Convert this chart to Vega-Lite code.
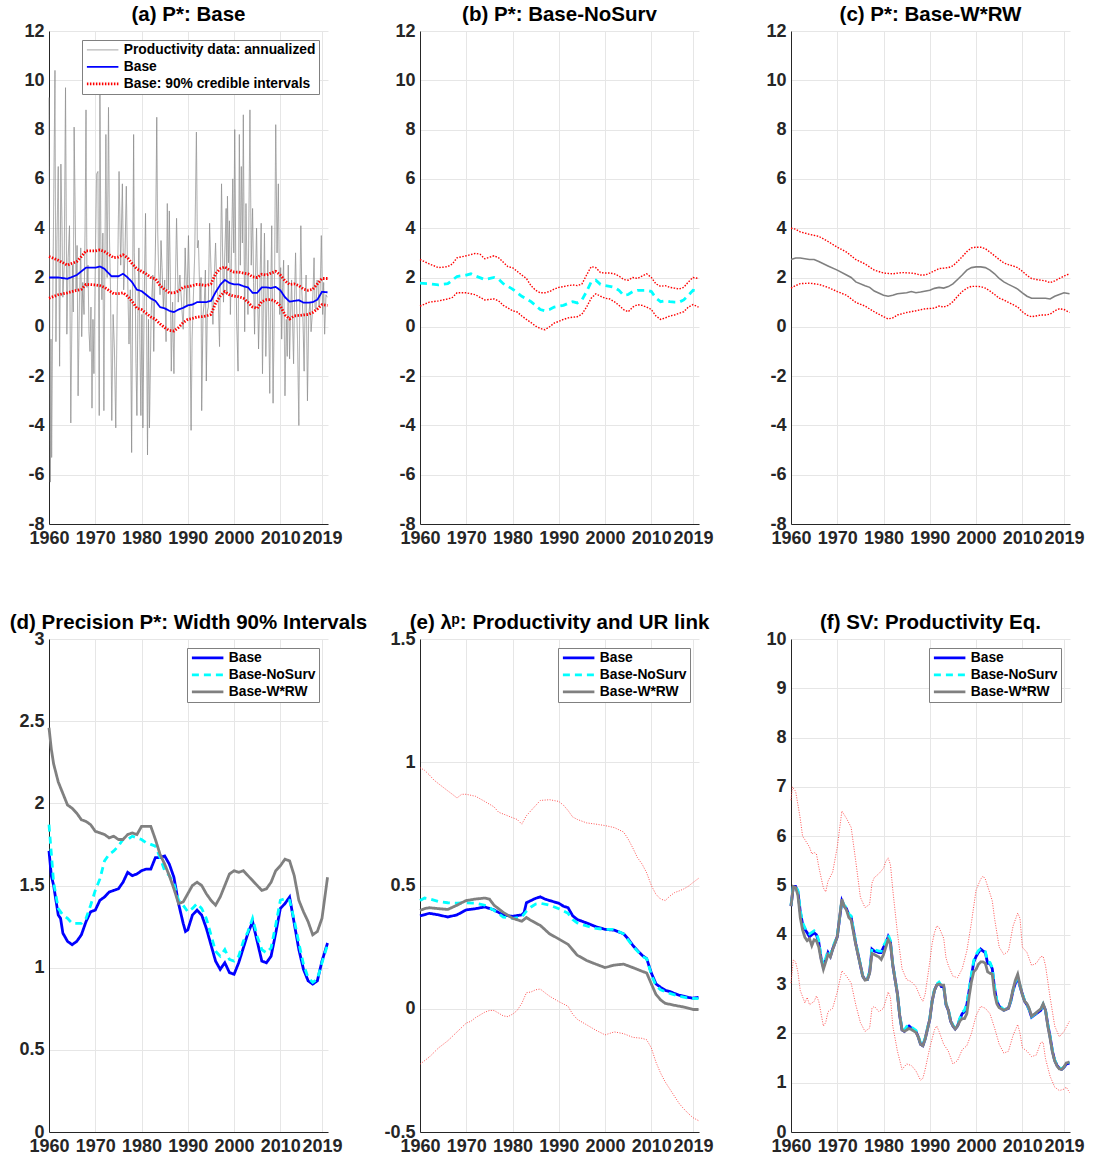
{
"$schema": "https://vega.github.io/schema/vega-lite/v6.json",
"padding": {"left": 9, "top": 4, "right": 5, "bottom": 5},
"background": "white",
"config": {
  "view": {"stroke": null},
  "font": "Liberation Sans",
  "axis": {"labelFont": "Liberation Sans", "labelFontSize": 18, "labelFontWeight": "bold", "labelColor": "#262626", "domainColor": "#262626", "domainWidth": 1, "gridColor": "#e6e6e6", "grid": true, "ticks": false, "labelPadding": 5},
  "title": {"font": "Liberation Sans", "fontSize": 20.5, "fontWeight": "bold", "color": "#000000", "offset": -3, "anchor": "middle"},
  "legend": {"orient": "top-right", "offset": 9, "fillColor": "white", "strokeColor": "#808080", "padding": 3, "labelFont": "Liberation Sans", "labelFontSize": 13.8, "labelFontWeight": "bold", "labelColor": "#000000", "labelLimit": 0, "symbolType": "M-1,0H5.3", "symbolSize": 100, "rowPadding": 2, "labelOffset": 25}
},
"datasets": {
"aB": [{"t":1960,"v":2.0},{"t":1962,"v":2.0},{"t":1964,"v":1.95},{"t":1966,"v":2.1},{"t":1967,"v":2.25},{"t":1968,"v":2.4},{"t":1970,"v":2.4},{"t":1971,"v":2.45},{"t":1972,"v":2.35},{"t":1973.5,"v":2.05},{"t":1975,"v":2.05},{"t":1976,"v":2.15},{"t":1977,"v":2.0},{"t":1978,"v":1.8},{"t":1979,"v":1.5},{"t":1980,"v":1.45},{"t":1981,"v":1.3},{"t":1982,"v":1.15},{"t":1983,"v":1.05},{"t":1984,"v":0.8},{"t":1985,"v":0.75},{"t":1986,"v":0.65},{"t":1987,"v":0.6},{"t":1988,"v":0.7},{"t":1989,"v":0.77},{"t":1990,"v":0.87},{"t":1991,"v":0.9},{"t":1992,"v":1.0},{"t":1993,"v":1.0},{"t":1994,"v":1.0},{"t":1995,"v":1.05},{"t":1996,"v":1.4},{"t":1997,"v":1.7},{"t":1998,"v":1.9},{"t":1999,"v":1.78},{"t":2000,"v":1.72},{"t":2001,"v":1.72},{"t":2002,"v":1.65},{"t":2003,"v":1.6},{"t":2004,"v":1.38},{"t":2005,"v":1.38},{"t":2006,"v":1.6},{"t":2007,"v":1.6},{"t":2008,"v":1.57},{"t":2009,"v":1.62},{"t":2010,"v":1.48},{"t":2011,"v":1.2},{"t":2012,"v":1.02},{"t":2013,"v":1.05},{"t":2014,"v":1.08},{"t":2015,"v":0.98},{"t":2016,"v":0.98},{"t":2017,"v":1.0},{"t":2018,"v":1.1},{"t":2019,"v":1.42},{"t":2020.2,"v":1.4}],
"aU": [{"t":1960,"v":2.85},{"t":1962,"v":2.7},{"t":1964,"v":2.5},{"t":1966,"v":2.65},{"t":1967,"v":2.85},{"t":1968,"v":3.08},{"t":1970,"v":3.08},{"t":1971,"v":3.12},{"t":1972,"v":3.05},{"t":1974,"v":2.8},{"t":1975,"v":2.83},{"t":1976,"v":2.92},{"t":1977,"v":2.8},{"t":1978,"v":2.55},{"t":1979,"v":2.35},{"t":1980,"v":2.25},{"t":1981,"v":2.15},{"t":1982,"v":2.0},{"t":1983,"v":1.95},{"t":1984,"v":1.67},{"t":1985,"v":1.52},{"t":1986,"v":1.38},{"t":1987,"v":1.38},{"t":1988,"v":1.45},{"t":1989,"v":1.6},{"t":1990,"v":1.63},{"t":1991,"v":1.67},{"t":1992,"v":1.72},{"t":1993,"v":1.7},{"t":1994,"v":1.67},{"t":1995,"v":1.74},{"t":1996,"v":2.15},{"t":1997,"v":2.36},{"t":1998,"v":2.43},{"t":1999,"v":2.3},{"t":2000,"v":2.22},{"t":2001,"v":2.22},{"t":2002,"v":2.18},{"t":2003,"v":2.15},{"t":2004,"v":2.03},{"t":2005,"v":2.0},{"t":2006,"v":2.13},{"t":2007,"v":2.1},{"t":2008,"v":2.18},{"t":2009,"v":2.25},{"t":2010,"v":2.1},{"t":2011,"v":1.86},{"t":2012,"v":1.72},{"t":2013,"v":1.74},{"t":2014,"v":1.67},{"t":2015,"v":1.53},{"t":2016,"v":1.48},{"t":2017,"v":1.52},{"t":2018,"v":1.74},{"t":2019,"v":1.96},{"t":2020.2,"v":1.96}],
"aL": [{"t":1960,"v":1.16},{"t":1962,"v":1.3},{"t":1964,"v":1.38},{"t":1966,"v":1.48},{"t":1967,"v":1.52},{"t":1968,"v":1.72},{"t":1970,"v":1.7},{"t":1971,"v":1.67},{"t":1972,"v":1.6},{"t":1974,"v":1.34},{"t":1975,"v":1.35},{"t":1976,"v":1.38},{"t":1977,"v":1.24},{"t":1978,"v":1.02},{"t":1979,"v":0.75},{"t":1980,"v":0.7},{"t":1981,"v":0.55},{"t":1982,"v":0.4},{"t":1983,"v":0.3},{"t":1984,"v":0.12},{"t":1985,"v":-0.03},{"t":1986,"v":-0.15},{"t":1987,"v":-0.17},{"t":1988,"v":-0.03},{"t":1989,"v":0.17},{"t":1990,"v":0.3},{"t":1991,"v":0.34},{"t":1992,"v":0.4},{"t":1993,"v":0.41},{"t":1994,"v":0.44},{"t":1995,"v":0.5},{"t":1996,"v":0.95},{"t":1997,"v":1.24},{"t":1998,"v":1.43},{"t":1999,"v":1.3},{"t":2000,"v":1.24},{"t":2001,"v":1.22},{"t":2002,"v":1.16},{"t":2003,"v":1.0},{"t":2004,"v":0.8},{"t":2005,"v":0.75},{"t":2006,"v":1.02},{"t":2007,"v":1.1},{"t":2008,"v":1.1},{"t":2009,"v":1.02},{"t":2010,"v":0.85},{"t":2011,"v":0.48},{"t":2012,"v":0.32},{"t":2013,"v":0.44},{"t":2014,"v":0.46},{"t":2015,"v":0.48},{"t":2016,"v":0.5},{"t":2017,"v":0.58},{"t":2018,"v":0.72},{"t":2019,"v":0.9},{"t":2020.2,"v":0.87}],
"aP": [{"t":1960.0,"v":9.3},{"t":1960.14,"v":2.1},{"t":1960.29,"v":-6.3},{"t":1960.43,"v":-0.5},{"t":1960.57,"v":-5.3},{"t":1960.86,"v":2.0},{"t":1961.29,"v":10.4},{"t":1961.5,"v":-0.6},{"t":1961.71,"v":3.5},{"t":1962.0,"v":6.5},{"t":1962.29,"v":-1.6},{"t":1962.57,"v":6.6},{"t":1962.8,"v":4.2},{"t":1963.0,"v":1.2},{"t":1963.29,"v":2.5},{"t":1963.57,"v":9.7},{"t":1963.86,"v":-0.3},{"t":1964.14,"v":2.8},{"t":1964.43,"v":4.1},{"t":1964.71,"v":-3.9},{"t":1965.07,"v":2.5},{"t":1965.25,"v":0.6},{"t":1965.43,"v":8.1},{"t":1965.86,"v":1.5},{"t":1966.07,"v":3.3},{"t":1966.29,"v":-2.8},{"t":1966.57,"v":1.0},{"t":1966.86,"v":3.2},{"t":1967.07,"v":-0.4},{"t":1967.29,"v":1.8},{"t":1967.57,"v":0.5},{"t":1967.8,"v":4.0},{"t":1968.0,"v":8.8},{"t":1968.21,"v":1.6},{"t":1968.43,"v":2.5},{"t":1968.64,"v":-0.2},{"t":1968.86,"v":-1.0},{"t":1969.07,"v":0.8},{"t":1969.29,"v":-3.3},{"t":1969.5,"v":0.3},{"t":1969.71,"v":-1.9},{"t":1970.0,"v":2.5},{"t":1970.29,"v":6.2},{"t":1970.57,"v":6.3},{"t":1970.86,"v":-3.6},{"t":1971.0,"v":9.8},{"t":1971.21,"v":3.4},{"t":1971.43,"v":1.1},{"t":1971.64,"v":3.8},{"t":1971.86,"v":-3.4},{"t":1972.07,"v":2.4},{"t":1972.29,"v":7.8},{"t":1972.57,"v":2.0},{"t":1972.86,"v":8.9},{"t":1973.07,"v":3.6},{"t":1973.29,"v":1.5},{"t":1973.57,"v":-3.8},{"t":1973.86,"v":0.5},{"t":1974.14,"v":-0.9},{"t":1974.43,"v":-4.1},{"t":1974.79,"v":1.5},{"t":1975.14,"v":6.3},{"t":1975.5,"v":2.5},{"t":1975.86,"v":5.8},{"t":1976.14,"v":1.5},{"t":1976.43,"v":3.0},{"t":1976.71,"v":5.7},{"t":1977.0,"v":2.0},{"t":1977.29,"v":-0.7},{"t":1977.57,"v":1.5},{"t":1977.86,"v":-5.1},{"t":1978.07,"v":1.2},{"t":1978.29,"v":7.8},{"t":1978.43,"v":3.0},{"t":1978.64,"v":1.5},{"t":1978.8,"v":-1.5},{"t":1979.0,"v":-3.6},{"t":1979.21,"v":0.5},{"t":1979.43,"v":3.2},{"t":1979.64,"v":-0.5},{"t":1979.86,"v":-3.6},{"t":1980.07,"v":0.5},{"t":1980.29,"v":-4.1},{"t":1980.57,"v":1.0},{"t":1980.86,"v":4.6},{"t":1981.07,"v":0.8},{"t":1981.29,"v":-5.2},{"t":1981.5,"v":0.3},{"t":1981.71,"v":-4.1},{"t":1982.07,"v":0.5},{"t":1982.43,"v":2.1},{"t":1982.64,"v":-1.0},{"t":1982.86,"v":1.8},{"t":1983.07,"v":4.0},{"t":1983.29,"v":8.5},{"t":1983.5,"v":3.8},{"t":1983.71,"v":2.2},{"t":1984.0,"v":1.3},{"t":1984.21,"v":3.5},{"t":1984.43,"v":2.4},{"t":1984.71,"v":0.8},{"t":1985.0,"v":1.9},{"t":1985.3,"v":-0.6},{"t":1985.57,"v":5.0},{"t":1985.79,"v":1.5},{"t":1986.0,"v":4.7},{"t":1986.21,"v":2.2},{"t":1986.43,"v":-1.8},{"t":1986.71,"v":1.0},{"t":1987.0,"v":-1.9},{"t":1987.29,"v":1.5},{"t":1987.57,"v":4.4},{"t":1987.93,"v":1.0},{"t":1988.29,"v":2.1},{"t":1988.64,"v":1.0},{"t":1989.0,"v":-0.1},{"t":1989.21,"v":1.4},{"t":1989.43,"v":3.2},{"t":1989.79,"v":0.8},{"t":1990.14,"v":3.7},{"t":1990.43,"v":1.0},{"t":1990.71,"v":-4.2},{"t":1990.93,"v":-0.5},{"t":1991.14,"v":0.8},{"t":1991.5,"v":3.0},{"t":1991.86,"v":7.9},{"t":1992.07,"v":3.2},{"t":1992.29,"v":3.5},{"t":1992.64,"v":1.0},{"t":1992.86,"v":2.0},{"t":1993.0,"v":-3.4},{"t":1993.29,"v":0.5},{"t":1993.57,"v":1.0},{"t":1993.8,"v":2.3},{"t":1994.0,"v":-2.2},{"t":1994.21,"v":0.6},{"t":1994.43,"v":0.8},{"t":1994.71,"v":4.2},{"t":1995.14,"v":1.5},{"t":1995.43,"v":0.1},{"t":1995.71,"v":2.0},{"t":1996.0,"v":3.4},{"t":1996.29,"v":1.5},{"t":1996.57,"v":1.2},{"t":1996.86,"v":-0.8},{"t":1997.07,"v":2.6},{"t":1997.29,"v":5.8},{"t":1997.5,"v":3.2},{"t":1997.71,"v":1.0},{"t":1998.0,"v":3.0},{"t":1998.29,"v":4.8},{"t":1998.43,"v":1.3},{"t":1998.57,"v":5.3},{"t":1998.8,"v":2.6},{"t":1999.0,"v":4.3},{"t":1999.2,"v":0.5},{"t":1999.36,"v":2.0},{"t":1999.71,"v":6.0},{"t":1999.93,"v":3.0},{"t":2000.14,"v":8.0},{"t":2000.36,"v":2.8},{"t":2000.57,"v":0.2},{"t":2000.86,"v":-1.8},{"t":2001.14,"v":7.8},{"t":2001.36,"v":2.5},{"t":2001.57,"v":6.5},{"t":2001.8,"v":3.4},{"t":2002.0,"v":8.6},{"t":2002.29,"v":-0.2},{"t":2002.57,"v":5.0},{"t":2002.8,"v":2.2},{"t":2003.0,"v":0.5},{"t":2003.21,"v":4.5},{"t":2003.43,"v":8.8},{"t":2003.71,"v":2.5},{"t":2004.0,"v":4.8},{"t":2004.21,"v":1.8},{"t":2004.43,"v":-0.3},{"t":2004.64,"v":2.2},{"t":2004.86,"v":4.0},{"t":2005.07,"v":1.5},{"t":2005.29,"v":-0.9},{"t":2005.57,"v":1.5},{"t":2005.86,"v":4.2},{"t":2006.14,"v":-1.9},{"t":2006.36,"v":1.2},{"t":2006.57,"v":3.8},{"t":2006.86,"v":-1.2},{"t":2007.07,"v":0.8},{"t":2007.29,"v":2.7},{"t":2007.5,"v":0.2},{"t":2007.71,"v":-2.7},{"t":2007.93,"v":1.5},{"t":2008.14,"v":4.1},{"t":2008.43,"v":-3.1},{"t":2008.71,"v":1.0},{"t":2009.0,"v":8.2},{"t":2009.29,"v":3.0},{"t":2009.57,"v":5.8},{"t":2009.86,"v":0.5},{"t":2010.07,"v":2.4},{"t":2010.29,"v":-0.5},{"t":2010.5,"v":1.6},{"t":2010.71,"v":2.7},{"t":2011.0,"v":-2.8},{"t":2011.29,"v":0.3},{"t":2011.5,"v":-1.2},{"t":2011.71,"v":2.5},{"t":2012.0,"v":-1.3},{"t":2012.21,"v":0.5},{"t":2012.43,"v":1.9},{"t":2012.64,"v":0.2},{"t":2012.86,"v":-1.5},{"t":2013.07,"v":1.2},{"t":2013.29,"v":3.0},{"t":2013.5,"v":1.0},{"t":2013.71,"v":-0.5},{"t":2014.0,"v":-4.0},{"t":2014.21,"v":1.2},{"t":2014.43,"v":4.1},{"t":2014.64,"v":1.5},{"t":2014.86,"v":0.5},{"t":2015.14,"v":-1.8},{"t":2015.36,"v":1.0},{"t":2015.57,"v":2.1},{"t":2015.86,"v":-3.0},{"t":2016.14,"v":0.5},{"t":2016.43,"v":1.0},{"t":2016.64,"v":-0.2},{"t":2016.86,"v":0.4},{"t":2017.07,"v":1.5},{"t":2017.29,"v":2.8},{"t":2017.5,"v":0.8},{"t":2017.71,"v":0.7},{"t":2017.93,"v":1.9},{"t":2018.14,"v":1.8},{"t":2018.36,"v":0.8},{"t":2018.57,"v":1.2},{"t":2018.86,"v":3.7},{"t":2019.14,"v":0.5},{"t":2019.36,"v":1.8},{"t":2019.57,"v":-0.3},{"t":2019.86,"v":1.3},{"t":2020.14,"v":1.2}],
"bN": [{"t":1960,"v":1.77},{"t":1962,"v":1.75},{"t":1964,"v":1.7},{"t":1966,"v":1.75},{"t":1968,"v":2.04},{"t":1970,"v":2.1},{"t":1971,"v":2.15},{"t":1972,"v":2.06},{"t":1974,"v":1.92},{"t":1976,"v":2.0},{"t":1977,"v":1.93},{"t":1978,"v":1.75},{"t":1980,"v":1.53},{"t":1982,"v":1.24},{"t":1984,"v":1.02},{"t":1986,"v":0.7},{"t":1987,"v":0.65},{"t":1988,"v":0.7},{"t":1989,"v":0.8},{"t":1990,"v":0.84},{"t":1991,"v":0.87},{"t":1992,"v":0.95},{"t":1993,"v":1.02},{"t":1994,"v":0.97},{"t":1995,"v":1.09},{"t":1996,"v":1.43},{"t":1997,"v":1.82},{"t":1998,"v":1.89},{"t":1999,"v":1.72},{"t":2000,"v":1.67},{"t":2001,"v":1.64},{"t":2002,"v":1.6},{"t":2003,"v":1.48},{"t":2004,"v":1.28},{"t":2005,"v":1.31},{"t":2006,"v":1.43},{"t":2007,"v":1.48},{"t":2008,"v":1.48},{"t":2009,"v":1.48},{"t":2010,"v":1.43},{"t":2011,"v":1.16},{"t":2012,"v":1.02},{"t":2013,"v":1.05},{"t":2014,"v":1.02},{"t":2015,"v":1.0},{"t":2016,"v":1.0},{"t":2017,"v":1.09},{"t":2018,"v":1.28},{"t":2019,"v":1.48},{"t":2020.2,"v":1.43}],
"bU": [{"t":1960,"v":2.73},{"t":1962,"v":2.55},{"t":1964,"v":2.4},{"t":1966,"v":2.44},{"t":1967,"v":2.55},{"t":1968,"v":2.8},{"t":1970,"v":2.88},{"t":1972,"v":2.98},{"t":1973,"v":2.94},{"t":1974,"v":2.76},{"t":1976,"v":2.88},{"t":1977,"v":2.8},{"t":1978,"v":2.62},{"t":1979,"v":2.44},{"t":1980,"v":2.4},{"t":1981,"v":2.25},{"t":1982,"v":2.1},{"t":1983,"v":1.96},{"t":1984,"v":1.67},{"t":1985,"v":1.48},{"t":1986,"v":1.38},{"t":1987,"v":1.38},{"t":1988,"v":1.43},{"t":1989,"v":1.53},{"t":1990,"v":1.6},{"t":1991,"v":1.63},{"t":1992,"v":1.67},{"t":1993,"v":1.7},{"t":1994,"v":1.67},{"t":1995,"v":1.74},{"t":1996,"v":2.1},{"t":1997,"v":2.44},{"t":1998,"v":2.4},{"t":1999,"v":2.2},{"t":2000,"v":2.18},{"t":2001,"v":2.18},{"t":2002,"v":2.15},{"t":2003,"v":2.06},{"t":2004,"v":1.92},{"t":2005,"v":1.89},{"t":2006,"v":2.0},{"t":2007,"v":1.96},{"t":2008,"v":2.06},{"t":2009,"v":2.15},{"t":2010,"v":2.0},{"t":2011,"v":1.74},{"t":2012,"v":1.64},{"t":2013,"v":1.67},{"t":2014,"v":1.6},{"t":2015,"v":1.57},{"t":2016,"v":1.53},{"t":2017,"v":1.6},{"t":2018,"v":1.82},{"t":2019,"v":2.0},{"t":2020.2,"v":1.96}],
"bL": [{"t":1960,"v":0.84},{"t":1962,"v":1.0},{"t":1964,"v":1.05},{"t":1966,"v":1.13},{"t":1967,"v":1.19},{"t":1968,"v":1.38},{"t":1970,"v":1.38},{"t":1972,"v":1.3},{"t":1973,"v":1.19},{"t":1974,"v":1.09},{"t":1976,"v":1.13},{"t":1977,"v":1.05},{"t":1978,"v":0.87},{"t":1980,"v":0.65},{"t":1981,"v":0.6},{"t":1982,"v":0.44},{"t":1983,"v":0.3},{"t":1984,"v":0.17},{"t":1985,"v":0.03},{"t":1986,"v":-0.07},{"t":1987,"v":-0.12},{"t":1988,"v":0.0},{"t":1989,"v":0.15},{"t":1990,"v":0.22},{"t":1991,"v":0.3},{"t":1992,"v":0.36},{"t":1993,"v":0.39},{"t":1994,"v":0.41},{"t":1995,"v":0.51},{"t":1996,"v":0.8},{"t":1997,"v":1.16},{"t":1998,"v":1.34},{"t":1999,"v":1.24},{"t":2000,"v":1.16},{"t":2001,"v":1.13},{"t":2002,"v":1.02},{"t":2003,"v":0.87},{"t":2004,"v":0.7},{"t":2005,"v":0.61},{"t":2006,"v":0.8},{"t":2007,"v":0.9},{"t":2008,"v":0.87},{"t":2009,"v":0.8},{"t":2010,"v":0.7},{"t":2011,"v":0.44},{"t":2012,"v":0.3},{"t":2013,"v":0.36},{"t":2014,"v":0.44},{"t":2015,"v":0.48},{"t":2016,"v":0.55},{"t":2017,"v":0.61},{"t":2018,"v":0.8},{"t":2019,"v":0.9},{"t":2020.2,"v":0.8}],
"cW": [{"t":1960,"v":2.73},{"t":1961,"v":2.79},{"t":1962,"v":2.79},{"t":1964,"v":2.73},{"t":1965,"v":2.73},{"t":1966,"v":2.65},{"t":1968,"v":2.47},{"t":1970,"v":2.3},{"t":1972,"v":2.1},{"t":1973,"v":2.0},{"t":1974,"v":1.82},{"t":1976,"v":1.67},{"t":1977,"v":1.6},{"t":1978,"v":1.45},{"t":1980,"v":1.28},{"t":1981,"v":1.24},{"t":1982,"v":1.28},{"t":1983,"v":1.34},{"t":1985,"v":1.38},{"t":1986,"v":1.43},{"t":1987,"v":1.38},{"t":1988,"v":1.41},{"t":1990,"v":1.48},{"t":1991,"v":1.56},{"t":1992,"v":1.6},{"t":1993,"v":1.57},{"t":1994,"v":1.63},{"t":1995,"v":1.74},{"t":1996,"v":1.92},{"t":1997,"v":2.1},{"t":1998,"v":2.3},{"t":1999,"v":2.4},{"t":2000,"v":2.43},{"t":2001,"v":2.43},{"t":2002,"v":2.4},{"t":2003,"v":2.3},{"t":2004,"v":2.15},{"t":2005,"v":1.96},{"t":2006,"v":1.82},{"t":2007,"v":1.72},{"t":2008,"v":1.63},{"t":2009,"v":1.53},{"t":2010,"v":1.38},{"t":2011,"v":1.24},{"t":2012,"v":1.16},{"t":2013,"v":1.16},{"t":2014,"v":1.16},{"t":2015,"v":1.16},{"t":2016,"v":1.13},{"t":2017,"v":1.24},{"t":2018,"v":1.31},{"t":2019,"v":1.38},{"t":2020.2,"v":1.34}],
"cU": [{"t":1960,"v":4.0},{"t":1961,"v":3.96},{"t":1962,"v":3.85},{"t":1964,"v":3.75},{"t":1966,"v":3.67},{"t":1968,"v":3.46},{"t":1970,"v":3.23},{"t":1972,"v":3.03},{"t":1974,"v":2.73},{"t":1976,"v":2.55},{"t":1978,"v":2.3},{"t":1980,"v":2.18},{"t":1982,"v":2.15},{"t":1984,"v":2.2},{"t":1986,"v":2.18},{"t":1987,"v":2.15},{"t":1988,"v":2.1},{"t":1989,"v":2.1},{"t":1990,"v":2.18},{"t":1992,"v":2.36},{"t":1994,"v":2.4},{"t":1995,"v":2.47},{"t":1996,"v":2.65},{"t":1997,"v":2.84},{"t":1998,"v":3.05},{"t":1999,"v":3.2},{"t":2000,"v":3.23},{"t":2001,"v":3.23},{"t":2002,"v":3.17},{"t":2003,"v":3.03},{"t":2004,"v":2.88},{"t":2005,"v":2.73},{"t":2006,"v":2.59},{"t":2007,"v":2.52},{"t":2008,"v":2.47},{"t":2009,"v":2.4},{"t":2010,"v":2.25},{"t":2011,"v":2.08},{"t":2012,"v":1.96},{"t":2013,"v":1.92},{"t":2014,"v":1.89},{"t":2015,"v":1.86},{"t":2016,"v":1.79},{"t":2017,"v":1.86},{"t":2018,"v":1.96},{"t":2019,"v":2.06},{"t":2020.2,"v":2.15}],
"cL": [{"t":1960,"v":1.57},{"t":1961,"v":1.67},{"t":1962,"v":1.75},{"t":1964,"v":1.77},{"t":1966,"v":1.72},{"t":1968,"v":1.6},{"t":1970,"v":1.43},{"t":1972,"v":1.28},{"t":1974,"v":0.99},{"t":1976,"v":0.84},{"t":1978,"v":0.61},{"t":1980,"v":0.41},{"t":1981,"v":0.32},{"t":1982,"v":0.36},{"t":1983,"v":0.48},{"t":1985,"v":0.58},{"t":1987,"v":0.65},{"t":1989,"v":0.73},{"t":1991,"v":0.76},{"t":1992,"v":0.84},{"t":1993,"v":0.8},{"t":1994,"v":0.87},{"t":1995,"v":1.02},{"t":1996,"v":1.24},{"t":1997,"v":1.43},{"t":1998,"v":1.57},{"t":1999,"v":1.64},{"t":2000,"v":1.64},{"t":2001,"v":1.63},{"t":2002,"v":1.57},{"t":2003,"v":1.45},{"t":2004,"v":1.31},{"t":2005,"v":1.16},{"t":2006,"v":1.09},{"t":2007,"v":0.99},{"t":2008,"v":0.9},{"t":2009,"v":0.8},{"t":2010,"v":0.61},{"t":2011,"v":0.47},{"t":2012,"v":0.41},{"t":2013,"v":0.44},{"t":2014,"v":0.48},{"t":2015,"v":0.48},{"t":2016,"v":0.51},{"t":2017,"v":0.65},{"t":2018,"v":0.73},{"t":2019,"v":0.7},{"t":2020.2,"v":0.58}],
"dB": [{"t":1960,"v":1.71},{"t":1960.5,"v":1.56},{"t":1961,"v":1.5},{"t":1962,"v":1.32},{"t":1962.5,"v":1.3},{"t":1963,"v":1.21},{"t":1964,"v":1.16},{"t":1965,"v":1.14},{"t":1966,"v":1.16},{"t":1967,"v":1.2},{"t":1968,"v":1.28},{"t":1969,"v":1.34},{"t":1970,"v":1.35},{"t":1971,"v":1.41},{"t":1972,"v":1.43},{"t":1973,"v":1.46},{"t":1974,"v":1.47},{"t":1975,"v":1.48},{"t":1976,"v":1.52},{"t":1977,"v":1.58},{"t":1978,"v":1.56},{"t":1979,"v":1.57},{"t":1980,"v":1.59},{"t":1981,"v":1.6},{"t":1982,"v":1.6},{"t":1983,"v":1.67},{"t":1984,"v":1.67},{"t":1985,"v":1.68},{"t":1986,"v":1.63},{"t":1987,"v":1.55},{"t":1988,"v":1.39},{"t":1989,"v":1.27},{"t":1989.5,"v":1.22},{"t":1990,"v":1.23},{"t":1991,"v":1.32},{"t":1992,"v":1.35},{"t":1993,"v":1.32},{"t":1994,"v":1.24},{"t":1995,"v":1.14},{"t":1996,"v":1.04},{"t":1997,"v":0.99},{"t":1998,"v":1.03},{"t":1999,"v":0.97},{"t":2000,"v":0.96},{"t":2001,"v":1.03},{"t":2002,"v":1.12},{"t":2003,"v":1.21},{"t":2004,"v":1.28},{"t":2005,"v":1.16},{"t":2006,"v":1.04},{"t":2007,"v":1.03},{"t":2008,"v":1.07},{"t":2009,"v":1.21},{"t":2010,"v":1.36},{"t":2011,"v":1.39},{"t":2012,"v":1.43},{"t":2013,"v":1.27},{"t":2014,"v":1.11},{"t":2015,"v":0.99},{"t":2016,"v":0.92},{"t":2017,"v":0.9},{"t":2018,"v":0.92},{"t":2019,"v":1.04},{"t":2020.2,"v":1.15}],
"dN": [{"t":1960,"v":1.87},{"t":1961,"v":1.52},{"t":1962,"v":1.36},{"t":1963,"v":1.32},{"t":1964,"v":1.3},{"t":1965,"v":1.27},{"t":1966,"v":1.27},{"t":1967,"v":1.27},{"t":1968,"v":1.3},{"t":1969,"v":1.38},{"t":1970,"v":1.47},{"t":1971,"v":1.54},{"t":1972,"v":1.65},{"t":1973,"v":1.69},{"t":1974,"v":1.71},{"t":1975,"v":1.74},{"t":1976,"v":1.78},{"t":1977,"v":1.78},{"t":1978,"v":1.8},{"t":1979,"v":1.79},{"t":1980,"v":1.78},{"t":1981,"v":1.76},{"t":1982,"v":1.75},{"t":1983,"v":1.74},{"t":1984,"v":1.67},{"t":1985,"v":1.59},{"t":1986,"v":1.56},{"t":1987,"v":1.51},{"t":1988,"v":1.41},{"t":1989,"v":1.38},{"t":1990,"v":1.34},{"t":1991,"v":1.36},{"t":1992,"v":1.39},{"t":1993,"v":1.36},{"t":1994,"v":1.3},{"t":1995,"v":1.2},{"t":1996,"v":1.1},{"t":1997,"v":1.07},{"t":1998,"v":1.11},{"t":1999,"v":1.05},{"t":2000,"v":1.04},{"t":2001,"v":1.07},{"t":2002,"v":1.16},{"t":2003,"v":1.22},{"t":2004,"v":1.3},{"t":2005,"v":1.19},{"t":2006,"v":1.11},{"t":2007,"v":1.09},{"t":2008,"v":1.12},{"t":2009,"v":1.26},{"t":2010,"v":1.41},{"t":2011,"v":1.42},{"t":2012,"v":1.41},{"t":2013,"v":1.29},{"t":2014,"v":1.15},{"t":2015,"v":1.02},{"t":2016,"v":0.94},{"t":2017,"v":0.91},{"t":2018,"v":0.93},{"t":2019,"v":1.03},{"t":2020.2,"v":1.14}],
"dW": [{"t":1960,"v":2.46},{"t":1960.5,"v":2.33},{"t":1961,"v":2.24},{"t":1962,"v":2.13},{"t":1963,"v":2.06},{"t":1964,"v":1.99},{"t":1965,"v":1.97},{"t":1966,"v":1.94},{"t":1967,"v":1.9},{"t":1968,"v":1.89},{"t":1969,"v":1.87},{"t":1970,"v":1.83},{"t":1971,"v":1.82},{"t":1972,"v":1.81},{"t":1973,"v":1.79},{"t":1974,"v":1.8},{"t":1975,"v":1.78},{"t":1976,"v":1.78},{"t":1977,"v":1.81},{"t":1978,"v":1.82},{"t":1979,"v":1.81},{"t":1980,"v":1.86},{"t":1981,"v":1.86},{"t":1982,"v":1.86},{"t":1983,"v":1.78},{"t":1984,"v":1.69},{"t":1985,"v":1.63},{"t":1986,"v":1.56},{"t":1987,"v":1.48},{"t":1988,"v":1.39},{"t":1989,"v":1.4},{"t":1990,"v":1.45},{"t":1991,"v":1.5},{"t":1992,"v":1.52},{"t":1993,"v":1.5},{"t":1994,"v":1.45},{"t":1995,"v":1.41},{"t":1996,"v":1.38},{"t":1997,"v":1.43},{"t":1998,"v":1.5},{"t":1999,"v":1.57},{"t":2000,"v":1.59},{"t":2001,"v":1.58},{"t":2002,"v":1.59},{"t":2003,"v":1.56},{"t":2004,"v":1.53},{"t":2005,"v":1.5},{"t":2006,"v":1.47},{"t":2007,"v":1.48},{"t":2008,"v":1.52},{"t":2009,"v":1.59},{"t":2010,"v":1.62},{"t":2011,"v":1.66},{"t":2012,"v":1.65},{"t":2013,"v":1.56},{"t":2014,"v":1.41},{"t":2015,"v":1.34},{"t":2016,"v":1.28},{"t":2017,"v":1.2},{"t":2018,"v":1.22},{"t":2019,"v":1.3},{"t":2020.2,"v":1.55}],
"eB": [{"t":1960,"v":0.377},{"t":1962,"v":0.387},{"t":1964,"v":0.381},{"t":1966,"v":0.372},{"t":1968,"v":0.381},{"t":1970,"v":0.401},{"t":1972,"v":0.406},{"t":1974,"v":0.413},{"t":1976,"v":0.401},{"t":1978,"v":0.38},{"t":1980,"v":0.375},{"t":1982,"v":0.381},{"t":1982.5,"v":0.39},{"t":1983,"v":0.43},{"t":1984,"v":0.439},{"t":1985,"v":0.448},{"t":1986,"v":0.454},{"t":1987,"v":0.445},{"t":1988,"v":0.439},{"t":1990,"v":0.428},{"t":1991,"v":0.416},{"t":1992,"v":0.41},{"t":1993,"v":0.377},{"t":1994,"v":0.362},{"t":1995,"v":0.355},{"t":1996,"v":0.348},{"t":1998,"v":0.333},{"t":2000,"v":0.322},{"t":2002,"v":0.319},{"t":2004,"v":0.304},{"t":2005,"v":0.283},{"t":2006,"v":0.257},{"t":2007,"v":0.236},{"t":2008,"v":0.217},{"t":2009,"v":0.203},{"t":2010,"v":0.145},{"t":2011,"v":0.101},{"t":2012,"v":0.087},{"t":2013,"v":0.075},{"t":2014,"v":0.07},{"t":2015,"v":0.062},{"t":2016,"v":0.055},{"t":2017,"v":0.051},{"t":2018,"v":0.046},{"t":2019,"v":0.043},{"t":2020.2,"v":0.046}],
"eN": [{"t":1960,"v":0.439},{"t":1961,"v":0.449},{"t":1962,"v":0.446},{"t":1964,"v":0.435},{"t":1966,"v":0.43},{"t":1968,"v":0.428},{"t":1970,"v":0.43},{"t":1972,"v":0.428},{"t":1974,"v":0.42},{"t":1976,"v":0.399},{"t":1978,"v":0.372},{"t":1980,"v":0.367},{"t":1982,"v":0.372},{"t":1983,"v":0.396},{"t":1984,"v":0.413},{"t":1985,"v":0.425},{"t":1986,"v":0.428},{"t":1988,"v":0.42},{"t":1990,"v":0.406},{"t":1992,"v":0.387},{"t":1993,"v":0.362},{"t":1994,"v":0.348},{"t":1996,"v":0.336},{"t":1998,"v":0.326},{"t":2000,"v":0.322},{"t":2002,"v":0.322},{"t":2004,"v":0.304},{"t":2006,"v":0.254},{"t":2008,"v":0.213},{"t":2009,"v":0.203},{"t":2010,"v":0.138},{"t":2011,"v":0.094},{"t":2012,"v":0.077},{"t":2014,"v":0.062},{"t":2016,"v":0.051},{"t":2018,"v":0.043},{"t":2020.2,"v":0.041}],
"eW": [{"t":1960,"v":0.399},{"t":1961,"v":0.406},{"t":1962,"v":0.41},{"t":1964,"v":0.406},{"t":1966,"v":0.403},{"t":1968,"v":0.42},{"t":1969,"v":0.43},{"t":1970,"v":0.439},{"t":1972,"v":0.445},{"t":1974,"v":0.449},{"t":1975,"v":0.445},{"t":1976,"v":0.42},{"t":1978,"v":0.391},{"t":1980,"v":0.367},{"t":1982,"v":0.355},{"t":1983,"v":0.37},{"t":1984,"v":0.358},{"t":1986,"v":0.338},{"t":1988,"v":0.304},{"t":1990,"v":0.283},{"t":1992,"v":0.261},{"t":1994,"v":0.217},{"t":1996,"v":0.196},{"t":1998,"v":0.181},{"t":2000,"v":0.167},{"t":2002,"v":0.177},{"t":2004,"v":0.181},{"t":2006,"v":0.167},{"t":2008,"v":0.152},{"t":2009,"v":0.145},{"t":2010,"v":0.101},{"t":2011,"v":0.058},{"t":2012,"v":0.036},{"t":2013,"v":0.022},{"t":2015,"v":0.014},{"t":2017,"v":0.007},{"t":2019,"v":-0.003},{"t":2020.2,"v":-0.003}],
"eU": [{"t":1960,"v":0.978},{"t":1961,"v":0.967},{"t":1962,"v":0.949},{"t":1963,"v":0.928},{"t":1964,"v":0.913},{"t":1966,"v":0.884},{"t":1967,"v":0.87},{"t":1968,"v":0.855},{"t":1969,"v":0.87},{"t":1970,"v":0.87},{"t":1972,"v":0.862},{"t":1974,"v":0.841},{"t":1976,"v":0.819},{"t":1977,"v":0.797},{"t":1978,"v":0.79},{"t":1980,"v":0.775},{"t":1981,"v":0.768},{"t":1982,"v":0.749},{"t":1983,"v":0.783},{"t":1984,"v":0.804},{"t":1986,"v":0.845},{"t":1988,"v":0.848},{"t":1990,"v":0.841},{"t":1991,"v":0.826},{"t":1992,"v":0.804},{"t":1993,"v":0.778},{"t":1994,"v":0.768},{"t":1996,"v":0.754},{"t":1998,"v":0.749},{"t":2000,"v":0.743},{"t":2002,"v":0.735},{"t":2004,"v":0.717},{"t":2005,"v":0.688},{"t":2006,"v":0.652},{"t":2007,"v":0.613},{"t":2008,"v":0.587},{"t":2009,"v":0.551},{"t":2010,"v":0.5},{"t":2011,"v":0.464},{"t":2012,"v":0.445},{"t":2013,"v":0.439},{"t":2014,"v":0.457},{"t":2015,"v":0.471},{"t":2016,"v":0.478},{"t":2017,"v":0.486},{"t":2018,"v":0.497},{"t":2019,"v":0.512},{"t":2020.2,"v":0.529}],
"eL": [{"t":1960,"v":-0.225},{"t":1962,"v":-0.196},{"t":1964,"v":-0.159},{"t":1966,"v":-0.13},{"t":1968,"v":-0.094},{"t":1970,"v":-0.058},{"t":1971,"v":-0.051},{"t":1972,"v":-0.036},{"t":1974,"v":-0.014},{"t":1975,"v":-0.007},{"t":1976,"v":-0.007},{"t":1978,"v":-0.029},{"t":1979,"v":-0.032},{"t":1980,"v":-0.022},{"t":1981,"v":-0.007},{"t":1982,"v":0.022},{"t":1983,"v":0.065},{"t":1984,"v":0.068},{"t":1985,"v":0.077},{"t":1986,"v":0.08},{"t":1987,"v":0.065},{"t":1988,"v":0.051},{"t":1990,"v":0.029},{"t":1992,"v":0.01},{"t":1993,"v":-0.022},{"t":1994,"v":-0.043},{"t":1996,"v":-0.065},{"t":1998,"v":-0.087},{"t":2000,"v":-0.106},{"t":2002,"v":-0.094},{"t":2004,"v":-0.101},{"t":2006,"v":-0.116},{"t":2008,"v":-0.12},{"t":2009,"v":-0.126},{"t":2010,"v":-0.159},{"t":2011,"v":-0.217},{"t":2012,"v":-0.261},{"t":2013,"v":-0.297},{"t":2014,"v":-0.326},{"t":2015,"v":-0.355},{"t":2016,"v":-0.384},{"t":2017,"v":-0.406},{"t":2018,"v":-0.425},{"t":2019,"v":-0.442},{"t":2020.2,"v":-0.454}],
"fB": [{"t":1960,"v":4.58},{"t":1960.5,"v":4.98},{"t":1961,"v":4.98},{"t":1961.5,"v":4.87},{"t":1962,"v":4.47},{"t":1962.5,"v":4.22},{"t":1963,"v":4.11},{"t":1963.5,"v":4.04},{"t":1964,"v":3.96},{"t":1964.5,"v":4.0},{"t":1965,"v":4.04},{"t":1965.5,"v":4.0},{"t":1966,"v":3.85},{"t":1966.5,"v":3.53},{"t":1967,"v":3.35},{"t":1967.5,"v":3.49},{"t":1968,"v":3.64},{"t":1968.5,"v":3.56},{"t":1969,"v":3.71},{"t":1970,"v":3.96},{"t":1970.5,"v":4.33},{"t":1971,"v":4.69},{"t":1971.5,"v":4.58},{"t":1972,"v":4.53},{"t":1972.5,"v":4.4},{"t":1973,"v":4.36},{"t":1974,"v":3.82},{"t":1975,"v":3.38},{"t":1975.5,"v":3.16},{"t":1976,"v":3.09},{"t":1976.5,"v":3.09},{"t":1977,"v":3.24},{"t":1977.5,"v":3.71},{"t":1978,"v":3.67},{"t":1979,"v":3.64},{"t":1979.5,"v":3.64},{"t":1980,"v":3.75},{"t":1980.5,"v":3.82},{"t":1981,"v":3.96},{"t":1981.5,"v":3.85},{"t":1982,"v":3.38},{"t":1983,"v":2.8},{"t":1983.5,"v":2.36},{"t":1984,"v":2.07},{"t":1984.5,"v":2.04},{"t":1985,"v":2.11},{"t":1985.5,"v":2.15},{"t":1986,"v":2.11},{"t":1987,"v":2.04},{"t":1987.5,"v":1.93},{"t":1988,"v":1.78},{"t":1988.5,"v":1.75},{"t":1989,"v":1.89},{"t":1990,"v":2.29},{"t":1990.5,"v":2.65},{"t":1991,"v":2.87},{"t":1991.5,"v":2.98},{"t":1992,"v":3.02},{"t":1992.5,"v":2.95},{"t":1993,"v":2.95},{"t":1993.5,"v":2.58},{"t":1994,"v":2.47},{"t":1994.5,"v":2.25},{"t":1995,"v":2.15},{"t":1995.5,"v":2.09},{"t":1996,"v":2.15},{"t":1996.5,"v":2.29},{"t":1997,"v":2.4},{"t":1997.5,"v":2.44},{"t":1998,"v":2.58},{"t":1998.5,"v":2.87},{"t":1999,"v":3.16},{"t":1999.5,"v":3.45},{"t":2000,"v":3.56},{"t":2000.5,"v":3.64},{"t":2001,"v":3.71},{"t":2001.5,"v":3.67},{"t":2002,"v":3.64},{"t":2002.5,"v":3.42},{"t":2003,"v":3.42},{"t":2003.5,"v":3.31},{"t":2004,"v":2.91},{"t":2004.5,"v":2.65},{"t":2005,"v":2.55},{"t":2006,"v":2.47},{"t":2007,"v":2.51},{"t":2007.5,"v":2.65},{"t":2008,"v":2.87},{"t":2008.5,"v":3.02},{"t":2009,"v":3.13},{"t":2009.5,"v":2.95},{"t":2010,"v":2.8},{"t":2010.5,"v":2.65},{"t":2011,"v":2.58},{"t":2011.5,"v":2.47},{"t":2012,"v":2.33},{"t":2013,"v":2.4},{"t":2014,"v":2.47},{"t":2014.5,"v":2.58},{"t":2015,"v":2.47},{"t":2015.5,"v":2.18},{"t":2016,"v":1.93},{"t":2016.5,"v":1.64},{"t":2017,"v":1.45},{"t":2017.5,"v":1.35},{"t":2018,"v":1.29},{"t":2018.5,"v":1.27},{"t":2019,"v":1.31},{"t":2019.5,"v":1.38},{"t":2020.2,"v":1.4}],
"fN": [{"t":1960,"v":4.6},{"t":1960.5,"v":5.0},{"t":1961,"v":4.98},{"t":1961.5,"v":4.9},{"t":1962,"v":4.5},{"t":1962.5,"v":4.25},{"t":1963,"v":4.14},{"t":1963.5,"v":4.08},{"t":1964,"v":4.02},{"t":1964.5,"v":4.05},{"t":1965,"v":4.08},{"t":1965.5,"v":4.04},{"t":1966,"v":3.88},{"t":1966.5,"v":3.55},{"t":1967,"v":3.38},{"t":1967.5,"v":3.52},{"t":1968,"v":3.68},{"t":1968.5,"v":3.6},{"t":1969,"v":3.74},{"t":1970,"v":3.98},{"t":1970.5,"v":4.35},{"t":1971,"v":4.7},{"t":1971.5,"v":4.6},{"t":1972,"v":4.55},{"t":1972.5,"v":4.42},{"t":1973,"v":4.38},{"t":1974,"v":3.84},{"t":1975,"v":3.4},{"t":1975.5,"v":3.17},{"t":1976,"v":3.1},{"t":1976.5,"v":3.1},{"t":1977,"v":3.26},{"t":1977.5,"v":3.73},{"t":1978,"v":3.7},{"t":1979,"v":3.67},{"t":1979.5,"v":3.67},{"t":1980,"v":3.78},{"t":1980.5,"v":3.86},{"t":1981,"v":4.0},{"t":1981.5,"v":3.88},{"t":1982,"v":3.4},{"t":1983,"v":2.82},{"t":1983.5,"v":2.38},{"t":1984,"v":2.09},{"t":1984.5,"v":2.07},{"t":1985,"v":2.14},{"t":1985.5,"v":2.17},{"t":1986,"v":2.13},{"t":1987,"v":2.06},{"t":1987.5,"v":1.95},{"t":1988,"v":1.8},{"t":1988.5,"v":1.77},{"t":1989,"v":1.91},{"t":1990,"v":2.31},{"t":1990.5,"v":2.67},{"t":1991,"v":2.89},{"t":1991.5,"v":3.0},{"t":1992,"v":3.04},{"t":1992.5,"v":2.97},{"t":1993,"v":2.97},{"t":1993.5,"v":2.6},{"t":1994,"v":2.49},{"t":1994.5,"v":2.27},{"t":1995,"v":2.17},{"t":1995.5,"v":2.11},{"t":1996,"v":2.17},{"t":1996.5,"v":2.31},{"t":1997,"v":2.43},{"t":1997.5,"v":2.47},{"t":1998,"v":2.6},{"t":1998.5,"v":2.9},{"t":1999,"v":3.19},{"t":1999.5,"v":3.48},{"t":2000,"v":3.6},{"t":2000.5,"v":3.68},{"t":2001,"v":3.72},{"t":2001.5,"v":3.7},{"t":2002,"v":3.66},{"t":2002.5,"v":3.45},{"t":2003,"v":3.44},{"t":2003.5,"v":3.33},{"t":2004,"v":2.94},{"t":2004.5,"v":2.67},{"t":2005,"v":2.57},{"t":2006,"v":2.48},{"t":2007,"v":2.52},{"t":2007.5,"v":2.66},{"t":2008,"v":2.88},{"t":2008.5,"v":3.03},{"t":2009,"v":3.15},{"t":2009.5,"v":2.97},{"t":2010,"v":2.81},{"t":2010.5,"v":2.66},{"t":2011,"v":2.59},{"t":2011.5,"v":2.48},{"t":2012,"v":2.34},{"t":2013,"v":2.41},{"t":2014,"v":2.48},{"t":2014.5,"v":2.59},{"t":2015,"v":2.48},{"t":2015.5,"v":2.19},{"t":2016,"v":1.94},{"t":2016.5,"v":1.65},{"t":2017,"v":1.46},{"t":2017.5,"v":1.36},{"t":2018,"v":1.3},{"t":2018.5,"v":1.28},{"t":2019,"v":1.32},{"t":2019.5,"v":1.39},{"t":2020.2,"v":1.41}],
"fW": [{"t":1960,"v":4.58},{"t":1960.5,"v":4.98},{"t":1961,"v":4.96},{"t":1961.5,"v":4.8},{"t":1962,"v":4.35},{"t":1962.5,"v":4.1},{"t":1963,"v":3.95},{"t":1963.5,"v":3.88},{"t":1964,"v":3.92},{"t":1964.5,"v":3.78},{"t":1965,"v":3.9},{"t":1965.5,"v":3.88},{"t":1966,"v":3.75},{"t":1966.5,"v":3.5},{"t":1967,"v":3.3},{"t":1967.5,"v":3.45},{"t":1968,"v":3.6},{"t":1968.5,"v":3.55},{"t":1969,"v":3.7},{"t":1970,"v":3.96},{"t":1970.5,"v":4.35},{"t":1971,"v":4.72},{"t":1971.5,"v":4.58},{"t":1972,"v":4.5},{"t":1972.5,"v":4.35},{"t":1973,"v":4.3},{"t":1974,"v":3.8},{"t":1975,"v":3.38},{"t":1975.5,"v":3.16},{"t":1976,"v":3.08},{"t":1976.5,"v":3.09},{"t":1977,"v":3.22},{"t":1977.5,"v":3.62},{"t":1978,"v":3.6},{"t":1979,"v":3.55},{"t":1979.5,"v":3.5},{"t":1980,"v":3.6},{"t":1980.5,"v":3.75},{"t":1981,"v":3.9},{"t":1981.5,"v":3.82},{"t":1982,"v":3.38},{"t":1983,"v":2.8},{"t":1983.5,"v":2.36},{"t":1984,"v":2.07},{"t":1984.5,"v":2.04},{"t":1985,"v":2.07},{"t":1985.5,"v":2.1},{"t":1986,"v":2.08},{"t":1987,"v":2.02},{"t":1987.5,"v":1.93},{"t":1988,"v":1.78},{"t":1988.5,"v":1.75},{"t":1989,"v":1.89},{"t":1990,"v":2.29},{"t":1990.5,"v":2.65},{"t":1991,"v":2.87},{"t":1991.5,"v":2.98},{"t":1992,"v":3.0},{"t":1992.5,"v":2.98},{"t":1993,"v":2.98},{"t":1993.5,"v":2.6},{"t":1994,"v":2.47},{"t":1994.5,"v":2.25},{"t":1995,"v":2.15},{"t":1995.5,"v":2.09},{"t":1996,"v":2.15},{"t":1996.5,"v":2.25},{"t":1997,"v":2.3},{"t":1997.5,"v":2.3},{"t":1998,"v":2.4},{"t":1998.5,"v":2.75},{"t":1999,"v":3.05},{"t":1999.5,"v":3.25},{"t":2000,"v":3.3},{"t":2000.5,"v":3.4},{"t":2001,"v":3.45},{"t":2001.5,"v":3.45},{"t":2002,"v":3.42},{"t":2002.5,"v":3.25},{"t":2003,"v":3.22},{"t":2003.5,"v":3.2},{"t":2004,"v":2.8},{"t":2004.5,"v":2.6},{"t":2005,"v":2.52},{"t":2006,"v":2.47},{"t":2007,"v":2.51},{"t":2007.5,"v":2.68},{"t":2008,"v":2.9},{"t":2008.5,"v":3.08},{"t":2009,"v":3.2},{"t":2009.5,"v":2.98},{"t":2010,"v":2.78},{"t":2010.5,"v":2.65},{"t":2011,"v":2.6},{"t":2011.5,"v":2.5},{"t":2012,"v":2.35},{"t":2013,"v":2.42},{"t":2014,"v":2.5},{"t":2014.5,"v":2.6},{"t":2015,"v":2.47},{"t":2015.5,"v":2.15},{"t":2016,"v":1.9},{"t":2016.5,"v":1.62},{"t":2017,"v":1.44},{"t":2017.5,"v":1.34},{"t":2018,"v":1.28},{"t":2018.5,"v":1.27},{"t":2019,"v":1.32},{"t":2019.5,"v":1.4},{"t":2020.2,"v":1.42}],
"fU": [{"t":1960,"v":6.73},{"t":1960.3,"v":7.0},{"t":1961,"v":6.91},{"t":1962,"v":6.36},{"t":1962.5,"v":6.0},{"t":1963,"v":5.93},{"t":1964,"v":5.78},{"t":1964.5,"v":5.64},{"t":1965,"v":5.67},{"t":1965.5,"v":5.64},{"t":1966,"v":5.38},{"t":1967,"v":4.95},{"t":1967.5,"v":4.87},{"t":1968,"v":5.09},{"t":1969,"v":5.27},{"t":1970,"v":5.78},{"t":1970.5,"v":6.15},{"t":1971,"v":6.51},{"t":1972,"v":6.36},{"t":1973,"v":6.18},{"t":1974,"v":5.49},{"t":1975,"v":4.76},{"t":1976,"v":4.55},{"t":1977,"v":4.62},{"t":1977.5,"v":5.05},{"t":1978,"v":5.16},{"t":1979,"v":5.24},{"t":1980,"v":5.35},{"t":1980.5,"v":5.49},{"t":1981,"v":5.56},{"t":1981.5,"v":5.42},{"t":1982,"v":4.91},{"t":1983,"v":4.04},{"t":1984,"v":3.31},{"t":1985,"v":3.09},{"t":1986,"v":3.05},{"t":1987,"v":2.95},{"t":1988,"v":2.73},{"t":1988.5,"v":2.65},{"t":1989,"v":2.8},{"t":1990,"v":3.45},{"t":1990.5,"v":3.82},{"t":1991,"v":4.04},{"t":1991.5,"v":4.18},{"t":1992,"v":4.15},{"t":1993,"v":3.93},{"t":1993.5,"v":3.53},{"t":1994,"v":3.38},{"t":1995,"v":3.16},{"t":1996,"v":3.13},{"t":1997,"v":3.31},{"t":1998,"v":3.67},{"t":1999,"v":4.25},{"t":2000,"v":4.91},{"t":2001,"v":5.13},{"t":2001.5,"v":5.19},{"t":2002,"v":5.13},{"t":2003,"v":4.84},{"t":2003.5,"v":4.69},{"t":2004,"v":4.33},{"t":2005,"v":3.75},{"t":2006,"v":3.6},{"t":2007,"v":3.67},{"t":2008,"v":4.18},{"t":2009,"v":4.44},{"t":2009.5,"v":4.33},{"t":2010,"v":3.75},{"t":2011,"v":3.64},{"t":2012,"v":3.38},{"t":2013,"v":3.42},{"t":2014,"v":3.56},{"t":2014.5,"v":3.56},{"t":2015,"v":3.38},{"t":2016,"v":2.73},{"t":2017,"v":2.15},{"t":2018,"v":1.93},{"t":2019,"v":2.04},{"t":2020.2,"v":2.25}],
"fL": [{"t":1960,"v":3.02},{"t":1960.5,"v":3.49},{"t":1961,"v":3.45},{"t":1961.5,"v":3.24},{"t":1962,"v":2.87},{"t":1963,"v":2.62},{"t":1963.5,"v":2.73},{"t":1964,"v":2.58},{"t":1965,"v":2.65},{"t":1965.5,"v":2.76},{"t":1966,"v":2.65},{"t":1967,"v":2.15},{"t":1967.5,"v":2.22},{"t":1968,"v":2.44},{"t":1969,"v":2.51},{"t":1970,"v":2.84},{"t":1971,"v":3.27},{"t":1972,"v":3.16},{"t":1973,"v":3.02},{"t":1974,"v":2.58},{"t":1975,"v":2.22},{"t":1976,"v":2.04},{"t":1977,"v":2.11},{"t":1977.5,"v":2.51},{"t":1978,"v":2.55},{"t":1979,"v":2.44},{"t":1980,"v":2.51},{"t":1981,"v":2.84},{"t":1981.5,"v":2.73},{"t":1982,"v":2.15},{"t":1983,"v":1.64},{"t":1984,"v":1.27},{"t":1985,"v":1.38},{"t":1986,"v":1.35},{"t":1987,"v":1.24},{"t":1988,"v":1.05},{"t":1988.5,"v":1.09},{"t":1989,"v":1.27},{"t":1990,"v":1.71},{"t":1991,"v":2.07},{"t":1991.5,"v":2.15},{"t":1992,"v":2.04},{"t":1993,"v":1.78},{"t":1994,"v":1.64},{"t":1995,"v":1.38},{"t":1996,"v":1.45},{"t":1997,"v":1.67},{"t":1998,"v":1.75},{"t":1999,"v":2.0},{"t":2000,"v":2.36},{"t":2001,"v":2.55},{"t":2002,"v":2.51},{"t":2003,"v":2.4},{"t":2004,"v":2.11},{"t":2005,"v":1.78},{"t":2006,"v":1.6},{"t":2007,"v":1.64},{"t":2008,"v":1.96},{"t":2009,"v":2.18},{"t":2009.5,"v":2.0},{"t":2010,"v":1.71},{"t":2011,"v":1.64},{"t":2012,"v":1.53},{"t":2013,"v":1.56},{"t":2014,"v":1.82},{"t":2014.5,"v":1.82},{"t":2015,"v":1.49},{"t":2016,"v":1.13},{"t":2017,"v":0.91},{"t":2018,"v":0.84},{"t":2019,"v":0.87},{"t":2019.5,"v":0.91},{"t":2020.2,"v":0.8}]
},
"concat": [
 {"title": "(a)  P*: Base", "width": 279, "height": 493,
  "encoding": {
   "x": {"field": "t", "type": "quantitative", "scale": {"domain": [1960, 2020.3], "nice": false, "zero": false}, "axis": {"values": [1960,1970,1980,1990,2000,2010,2019], "title": null, "labelExpr": "'' + datum.value", "labelOverlap": false, "labelFlush": false}},
   "y": {"field": "v", "type": "quantitative", "scale": {"domain": [-8, 12], "nice": false, "zero": false}, "axis": {"values": [-8,-6,-4,-2,0,2,4,6,8,10,12], "title": null, "labelExpr": "'' + datum.value"}}
  },
  "layer": [
   {"data": {"name": "aP"}, "mark": {"type": "line"}, "encoding": {
     "color": {"datum": "Productivity data: annualized", "type": "ordinal", "scale": {"domain": ["Productivity data: annualized", "Base", "Base: 90% credible intervals"], "range": ["#8c8c8c", "#0000ff", "#ff0000"]}, "legend": {"title": null}},
     "strokeDash": {"datum": "Productivity data: annualized", "type": "ordinal", "scale": {"domain": ["Productivity data: annualized", "Base", "Base: 90% credible intervals"], "range": [[1,0],[1,0],[1.5,1.5]]}, "legend": {"title": null}},
     "strokeWidth": {"datum": "Productivity data: annualized", "type": "ordinal", "scale": {"domain": ["Productivity data: annualized", "Base", "Base: 90% credible intervals"], "range": [0.8, 2.8, 1.4]}, "legend": {"title": null}}}},
   {"data": {"name": "aU"}, "mark": {"type": "line"}, "encoding": {
     "color": {"datum": "Base: 90% credible intervals", "type": "ordinal"},
     "strokeDash": {"datum": "Base: 90% credible intervals", "type": "ordinal"},
     "strokeWidth": {"datum": "Base: 90% credible intervals", "type": "ordinal"}}},
   {"data": {"name": "aL"}, "mark": {"type": "line"}, "encoding": {
     "color": {"datum": "Base: 90% credible intervals", "type": "ordinal"},
     "strokeDash": {"datum": "Base: 90% credible intervals", "type": "ordinal"},
     "strokeWidth": {"datum": "Base: 90% credible intervals", "type": "ordinal"}}},
   {"data": {"name": "aB"}, "mark": {"type": "line"}, "encoding": {
     "color": {"datum": "Base", "type": "ordinal"},
     "strokeDash": {"datum": "Base", "type": "ordinal"},
     "strokeWidth": {"datum": "Base", "type": "ordinal"}}}
  ]
 },
 {"title": "(b)  P*: Base-NoSurv", "width": 279, "height": 493,
  "encoding": {
   "x": {"field": "t", "type": "quantitative", "scale": {"domain": [1960, 2020.3], "nice": false, "zero": false}, "axis": {"values": [1960,1970,1980,1990,2000,2010,2019], "title": null, "labelExpr": "'' + datum.value", "labelOverlap": false, "labelFlush": false}},
   "y": {"field": "v", "type": "quantitative", "scale": {"domain": [-8, 12], "nice": false, "zero": false}, "axis": {"values": [-8,-6,-4,-2,0,2,4,6,8,10,12], "title": null, "labelExpr": "'' + datum.value"}}
  },
  "layer": [
   {"data": {"name": "bU"}, "mark": {"type": "line", "color": "#ff0000", "strokeDash": [1.5,1.5], "strokeWidth": 1.4}},
   {"data": {"name": "bL"}, "mark": {"type": "line", "color": "#ff0000", "strokeDash": [1.5,1.5], "strokeWidth": 1.4}},
   {"data": {"name": "bN"}, "mark": {"type": "line", "color": "#00ffff", "strokeDash": [7,5], "strokeWidth": 2.8}}
  ]
 },
 {"title": "(c)  P*: Base-W*RW", "width": 279, "height": 493,
  "encoding": {
   "x": {"field": "t", "type": "quantitative", "scale": {"domain": [1960, 2020.3], "nice": false, "zero": false}, "axis": {"values": [1960,1970,1980,1990,2000,2010,2019], "title": null, "labelExpr": "'' + datum.value", "labelOverlap": false, "labelFlush": false}},
   "y": {"field": "v", "type": "quantitative", "scale": {"domain": [-8, 12], "nice": false, "zero": false}, "axis": {"values": [-8,-6,-4,-2,0,2,4,6,8,10,12], "title": null, "labelExpr": "'' + datum.value"}}
  },
  "layer": [
   {"data": {"name": "cU"}, "mark": {"type": "line", "color": "#ff0000", "strokeDash": [1.5,1.5], "strokeWidth": 1.4}},
   {"data": {"name": "cL"}, "mark": {"type": "line", "color": "#ff0000", "strokeDash": [1.5,1.5], "strokeWidth": 1.4}},
   {"data": {"name": "cW"}, "mark": {"type": "line", "color": "#808080", "strokeWidth": 1.6}}
  ]
 },
 {"title": "(d) Precision P*: Width 90% Intervals", "width": 279, "height": 493,
  "encoding": {
   "x": {"field": "t", "type": "quantitative", "scale": {"domain": [1960, 2020.3], "nice": false, "zero": false}, "axis": {"values": [1960,1970,1980,1990,2000,2010,2019], "title": null, "labelExpr": "'' + datum.value", "labelOverlap": false, "labelFlush": false}},
   "y": {"field": "v", "type": "quantitative", "scale": {"domain": [0, 3], "nice": false, "zero": false}, "axis": {"values": [0,0.5,1,1.5,2,2.5,3], "title": null, "labelExpr": "'' + datum.value"}}
  },
  "layer": [
   {"data": {"name": "dB"}, "mark": {"type": "line"}, "encoding": {
     "color": {"datum": "Base", "type": "ordinal", "scale": {"domain": ["Base", "Base-NoSurv", "Base-W*RW"], "range": ["#0000ff", "#00ffff", "#808080"]}, "legend": {"title": null}},
     "strokeDash": {"datum": "Base", "type": "ordinal", "scale": {"domain": ["Base", "Base-NoSurv", "Base-W*RW"], "range": [[1,0],[7,5],[1,0]]}, "legend": {"title": null}},
     "strokeWidth": {"datum": "Base", "type": "ordinal", "scale": {"domain": ["Base", "Base-NoSurv", "Base-W*RW"], "range": [2.8, 2.8, 1.6]}, "legend": {"title": null}}}},
   {"data": {"name": "dN"}, "mark": {"type": "line"}, "encoding": {
     "color": {"datum": "Base-NoSurv", "type": "ordinal"},
     "strokeDash": {"datum": "Base-NoSurv", "type": "ordinal"},
     "strokeWidth": {"datum": "Base-NoSurv", "type": "ordinal"}}},
   {"data": {"name": "dW"}, "mark": {"type": "line"}, "encoding": {
     "color": {"datum": "Base-W*RW", "type": "ordinal"},
     "strokeDash": {"datum": "Base-W*RW", "type": "ordinal"},
     "strokeWidth": {"datum": "Base-W*RW", "type": "ordinal"}}}
  ]
 },
 {"title": "(e) λᵖ: Productivity and UR link", "width": 279, "height": 493,
  "encoding": {
   "x": {"field": "t", "type": "quantitative", "scale": {"domain": [1960, 2020.3], "nice": false, "zero": false}, "axis": {"values": [1960,1970,1980,1990,2000,2010,2019], "title": null, "labelExpr": "'' + datum.value", "labelOverlap": false, "labelFlush": false}},
   "y": {"field": "v", "type": "quantitative", "scale": {"domain": [-0.5, 1.5], "nice": false, "zero": false}, "axis": {"values": [-0.5,0,0.5,1,1.5], "title": null, "labelExpr": "'' + datum.value"}}
  },
  "layer": [
   {"data": {"name": "eU"}, "mark": {"type": "line", "color": "#ff4040", "strokeDash": [1,1.5], "strokeWidth": 0.9}},
   {"data": {"name": "eL"}, "mark": {"type": "line", "color": "#ff4040", "strokeDash": [1,1.5], "strokeWidth": 0.9}},
   {"data": {"name": "eB"}, "mark": {"type": "line"}, "encoding": {
     "color": {"datum": "Base", "type": "ordinal", "scale": {"domain": ["Base", "Base-NoSurv", "Base-W*RW"], "range": ["#0000ff", "#00ffff", "#808080"]}, "legend": {"title": null}},
     "strokeDash": {"datum": "Base", "type": "ordinal", "scale": {"domain": ["Base", "Base-NoSurv", "Base-W*RW"], "range": [[1,0],[7,5],[1,0]]}, "legend": {"title": null}},
     "strokeWidth": {"datum": "Base", "type": "ordinal", "scale": {"domain": ["Base", "Base-NoSurv", "Base-W*RW"], "range": [2.8, 2.8, 1.6]}, "legend": {"title": null}}}},
   {"data": {"name": "eN"}, "mark": {"type": "line"}, "encoding": {
     "color": {"datum": "Base-NoSurv", "type": "ordinal"},
     "strokeDash": {"datum": "Base-NoSurv", "type": "ordinal"},
     "strokeWidth": {"datum": "Base-NoSurv", "type": "ordinal"}}},
   {"data": {"name": "eW"}, "mark": {"type": "line"}, "encoding": {
     "color": {"datum": "Base-W*RW", "type": "ordinal"},
     "strokeDash": {"datum": "Base-W*RW", "type": "ordinal"},
     "strokeWidth": {"datum": "Base-W*RW", "type": "ordinal"}}}
  ]
 },
 {"title": "(f)  SV: Productivity Eq.", "width": 279, "height": 493,
  "encoding": {
   "x": {"field": "t", "type": "quantitative", "scale": {"domain": [1960, 2020.3], "nice": false, "zero": false}, "axis": {"values": [1960,1970,1980,1990,2000,2010,2019], "title": null, "labelExpr": "'' + datum.value", "labelOverlap": false, "labelFlush": false}},
   "y": {"field": "v", "type": "quantitative", "scale": {"domain": [0, 10], "nice": false, "zero": false}, "axis": {"values": [0,1,2,3,4,5,6,7,8,9,10], "title": null, "labelExpr": "'' + datum.value"}}
  },
  "layer": [
   {"data": {"name": "fU"}, "mark": {"type": "line", "color": "#ff4040", "strokeDash": [1,1.5], "strokeWidth": 0.9}},
   {"data": {"name": "fL"}, "mark": {"type": "line", "color": "#ff4040", "strokeDash": [1,1.5], "strokeWidth": 0.9}},
   {"data": {"name": "fB"}, "mark": {"type": "line"}, "encoding": {
     "color": {"datum": "Base", "type": "ordinal", "scale": {"domain": ["Base", "Base-NoSurv", "Base-W*RW"], "range": ["#0000ff", "#00ffff", "#808080"]}, "legend": {"title": null}},
     "strokeDash": {"datum": "Base", "type": "ordinal", "scale": {"domain": ["Base", "Base-NoSurv", "Base-W*RW"], "range": [[1,0],[7,5],[1,0]]}, "legend": {"title": null}},
     "strokeWidth": {"datum": "Base", "type": "ordinal", "scale": {"domain": ["Base", "Base-NoSurv", "Base-W*RW"], "range": [2.8, 2.8, 1.6]}, "legend": {"title": null}}}},
   {"data": {"name": "fN"}, "mark": {"type": "line"}, "encoding": {
     "color": {"datum": "Base-NoSurv", "type": "ordinal"},
     "strokeDash": {"datum": "Base-NoSurv", "type": "ordinal"},
     "strokeWidth": {"datum": "Base-NoSurv", "type": "ordinal"}}},
   {"data": {"name": "fW"}, "mark": {"type": "line"}, "encoding": {
     "color": {"datum": "Base-W*RW", "type": "ordinal"},
     "strokeDash": {"datum": "Base-W*RW", "type": "ordinal"},
     "strokeWidth": {"datum": "Base-W*RW", "type": "ordinal"}}}
  ]
 }
],
"columns": 3,
"spacing": {"row": 115, "column": 92},
"bounds": "flush",
"resolve": {"scale": {"color": "independent", "strokeDash": "independent", "strokeWidth": "independent"}, "legend": {"color": "independent", "strokeDash": "independent", "strokeWidth": "independent"}}
}
